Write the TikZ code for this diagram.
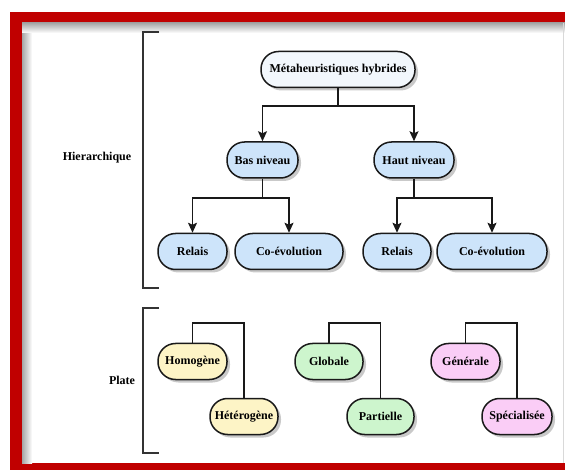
\documentclass[tikz,border=0pt]{standalone}
\usepackage{fontspec}
\setmainfont{Liberation Serif}
\usetikzlibrary{arrows.meta,shadows}

\definecolor{framered}{RGB}{192,0,0}
\definecolor{topfill}{RGB}{242,247,252}
\definecolor{bluefill}{RGB}{205,228,250}
\definecolor{yellowfill}{RGB}{253,244,198}
\definecolor{greenfill}{RGB}{205,245,205}
\definecolor{pinkfill}{RGB}{250,205,246}

\begin{document}
\begin{tikzpicture}[x=1pt,y=-1pt,
  pill/.style={draw=black!90, line width=1.5pt, rounded corners=17.5pt,
    minimum height=36pt, inner sep=0pt,
    font=\bfseries\fontsize{12}{14}\selectfont,
    drop shadow={shadow xshift=3pt,shadow yshift=-3pt,opacity=0.35,fill=black!60}},
  lbl/.style={font=\bfseries\fontsize{12}{14}\selectfont},
  link/.style={draw=black!90, line width=1.6pt},
  arr/.style={link, -{Stealth[length=10pt,width=9pt,inset=2pt]}},
  brk/.style={draw=black!80, line width=1.6pt}]
\useasboundingbox (0,0) rectangle (565,470);
% frame
\fill[framered] (10,12) rectangle (565,470);
\fill[white] (22,23) rectangle (565,463);
\shade[left color=black!35, right color=white] (22,23) rectangle (32,463);
\shade[top color=black!35, bottom color=white] (22,23) rectangle (565,33);
\draw[black!15, line width=0.8pt] (563.5,23) -- (563.5,463);

% brackets and side labels
\draw[brk] (159,32) -- (143,32) -- (143,288) -- (159,288);
\draw[brk] (159,308) -- (143,308) -- (143,453) -- (159,453);
\node[lbl] (hier) at (97,158) {Hierarchique};
\node[lbl] (plate) at (122,380) {Plate};

% hierarchique
\node[pill, fill=topfill, minimum width=154pt] (meta) at (338,69.5) {Métaheuristiques hybrides};
\node[pill, fill=bluefill, minimum width=71pt] (bas) at (262.5,160) {Bas niveau};
\node[pill, fill=bluefill, minimum width=80pt] (haut) at (414,160) {Haut niveau};
\node[pill, fill=bluefill, minimum width=69pt] (relaisA) at (192.5,251.5) {Relais};
\node[pill, fill=bluefill, minimum width=108pt] (coevoA) at (289,251.5) {Co-évolution};
\node[pill, fill=bluefill, minimum width=68pt] (relaisB) at (397,251.5) {Relais};
\node[pill, fill=bluefill, minimum width=110pt] (coevoB) at (492,251.5) {Co-évolution};

\draw[arr] (meta.south) -- ++(0,18) -| (bas.north);
\draw[arr] (meta.south) -- ++(0,18) -| (haut.north);
\draw[arr] (bas.south) -- ++(0,19) -| (relaisA.north);
\draw[arr] (bas.south) -- ++(0,19) -| (coevoA.north);
\draw[arr] (haut.south) -- ++(0,19) -| (relaisB.north);
\draw[arr] (haut.south) -- ++(0,19) -| (coevoB.north);

% plate
\node[pill, fill=yellowfill, minimum width=69pt] (homo) at (192.5,361.5) {Homogène};
\node[pill, fill=yellowfill, minimum width=68pt] (hetero) at (244,416.5) {Hétérogène};
\node[pill, fill=greenfill, minimum width=68pt] (glob) at (329,361.5) {Globale};
\node[pill, fill=greenfill, minimum width=67pt] (part) at (380.5,416.5) {Partielle};
\node[pill, fill=pinkfill, minimum width=69pt] (gen) at (465.5,361.5) {Générale};
\node[pill, fill=pinkfill, minimum width=70pt] (spec) at (517,416.5) {Spécialisée};

\draw[link] (homo.north) -- ++(0,-20) -| (hetero.north);
\draw[link] (glob.north) -- ++(0,-20) -| (part.north);
\draw[link] (gen.north) -- ++(0,-20) -| (spec.north);
\end{tikzpicture}
\end{document}
